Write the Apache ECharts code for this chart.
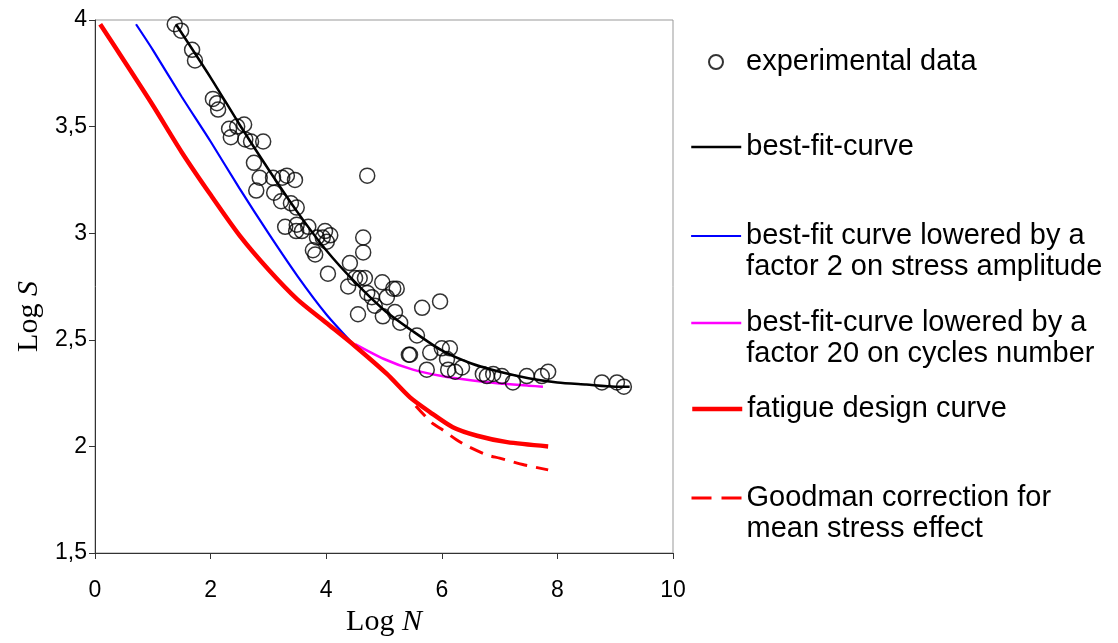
<!DOCTYPE html>
<html>
<head>
<meta charset="utf-8">
<script src="https://cdn.jsdelivr.net/npm/echarts@6/dist/echarts.min.js"></script>
<style>
  html, body { margin: 0; padding: 0; background: #fff; }
  #chart { width: 1118px; height: 643px; }
</style>
</head>
<body>
<div id="chart"></div>
<script>
// experimental points (Log N, Log S)
const expLogN = [1.38, 1.49, 1.68, 1.73, 2.04, 2.11, 2.13, 2.32, 2.46, 2.58, 2.35, 2.60, 2.70, 2.91,
  2.75, 2.85, 2.79, 3.08, 3.10, 3.24, 3.32, 3.46, 3.22, 3.39, 3.49, 3.29, 3.49, 3.58, 3.69, 3.48,
  3.98, 3.84, 3.94, 4.07, 4.01, 3.77, 3.81, 4.71, 4.64, 4.64, 4.03, 4.41, 4.50, 4.58, 4.67, 4.38,
  4.97, 5.16, 5.22, 4.71, 4.79, 5.05, 4.84, 4.55, 5.19, 4.98, 5.28, 5.66, 5.97, 5.57, 5.45, 5.43,
  5.80, 6.00, 6.14, 6.09, 5.74, 6.11, 6.23, 6.35, 6.71, 6.78, 6.89, 7.04, 7.23, 7.47, 7.73, 7.84,
  8.77, 9.03, 9.15];
const expLogS = [3.98, 3.95, 3.86, 3.81, 3.63, 3.61, 3.58, 3.49, 3.50, 3.51, 3.45, 3.44, 3.43, 3.43,
  3.33, 3.26, 3.20, 3.26, 3.19, 3.26, 3.27, 3.25, 3.15, 3.14, 3.12, 3.03, 3.04, 3.01, 3.03, 3.01,
  3.01, 2.98, 2.98, 2.99, 2.96, 2.92, 2.90, 3.27, 2.98, 2.91, 2.81, 2.86, 2.79, 2.79, 2.79, 2.75,
  2.77, 2.74, 2.74, 2.72, 2.70, 2.70, 2.66, 2.62, 2.63, 2.61, 2.58, 2.65, 2.68, 2.52, 2.43, 2.43,
  2.44, 2.46, 2.46, 2.41, 2.36, 2.36, 2.35, 2.37, 2.34, 2.33, 2.34, 2.33, 2.30, 2.33, 2.33, 2.35,
  2.30, 2.30, 2.28];

const bestFit = [[1.40, 3.98], [2.0, 3.73], [2.5, 3.51], [3.0, 3.30], [3.5, 3.10], [4.0, 2.92],
  [4.5, 2.77], [5.0, 2.64], [5.5, 2.54], [6.0, 2.45], [6.5, 2.39], [7.0, 2.35], [7.5, 2.32],
  [8.0, 2.30], [8.5, 2.29], [9.0, 2.28], [9.25, 2.28]];
const lowStress = [[0.71, 3.98], [1.0, 3.86], [1.5, 3.64], [2.0, 3.43], [2.5, 3.21], [3.0, 3.00],
  [3.5, 2.80], [4.0, 2.62], [4.5, 2.47]];
const lowCycles = [[4.5, 2.48], [5.0, 2.41], [5.5, 2.36], [6.0, 2.33], [6.5, 2.31], [7.0, 2.295],
  [7.5, 2.285], [7.75, 2.28]];
const designCurve = [[0.09, 3.98], [0.5, 3.81], [1.0, 3.60], [1.5, 3.38], [2.0, 3.18], [2.5, 2.99],
  [3.0, 2.83], [3.5, 2.69], [4.0, 2.58], [4.5, 2.47], [5.05, 2.34], [5.45, 2.23], [5.8, 2.16],
  [6.19, 2.09], [6.61, 2.05], [7.13, 2.02], [7.84, 2.00]];
const goodman = [[5.55, 2.19], [5.83, 2.11], [6.0, 2.08], [6.26, 2.03], [6.45, 2.0], [6.78, 1.96],
  [7.0, 1.945], [7.4, 1.915], [7.84, 1.89]];

const names = ['experimental data', 'best-fit-curve', 'best-fit curve lowered by a factor 2 on stress amplitude',
  'best-fit-curve lowered by a factor 20 on cycles number', 'fatigue design curve',
  'Goodman correction for mean stress effect'];
// a leading empty line keeps the icon level with the first text line
const legendText = ['experimental data', 'best-fit-curve', '\nbest-fit curve lowered by a\nfactor 2 on stress amplitude',
  '\nbest-fit-curve lowered by a\nfactor 20 on cycles number', 'fatigue design curve',
  '\nGoodman correction for\nmean stress effect'];
const legendY = [62, 147, 236, 323, 409, 498];
const lineWidths = [1.5, 2.5, 2.2, 2.5, 4.5, 3];

const sans = 'Liberation Sans, Arial, sans-serif';
const serif = 'Liberation Serif, Times New Roman, serif';

var myChart = echarts.init(document.getElementById('chart'));

const legends = names.map(function (n, i) {
  const lines = legendText[i].split('\n').length;
  return {
    data: [n],
    left: i === 0 ? 708 : 690,
    top: legendY[i] - lines * 31 / 2,
    padding: 0,
    itemWidth: 50,
    itemHeight: 14,
    selectedMode: false,
    itemStyle: i === 0 ? {} : { opacity: 0 },
    lineStyle: i === 5 ? { width: lineWidths[i], type: [20, 10] } : { width: lineWidths[i] },
    formatter: function () { return legendText[i]; },
    textStyle: {
      fontFamily: sans,
      fontSize: 29,
      lineHeight: 31,
      color: '#000'
    }
  };
});

function lineSeries(name, data, color, width, type) {
  return {
    name: name,
    type: 'line',
    data: data,
    smooth: 0.25,
    symbol: 'none',
    lineStyle: { color: color, width: width, type: type || 'solid' },
    itemStyle: { color: color },
    z: 2
  };
}

myChart.setOption({
  animation: false,
  backgroundColor: '#fff',
  legend: legends,
  grid: {
    left: 95, top: 20, right: 445, bottom: 90,
    show: true, borderColor: '#999', borderWidth: 1
  },
  xAxis: {
    type: 'value', min: 0, max: 10, interval: 2,
    name: '{a|Log }{b|N}',
    nameLocation: 'middle',
    nameGap: 52,
    nameTextStyle: {
      rich: {
        a: { fontFamily: serif, fontSize: 30, color: '#000' },
        b: { fontFamily: serif, fontSize: 30, fontStyle: 'italic', color: '#000' }
      }
    },
    axisLine: { lineStyle: { color: '#333', width: 1 } },
    axisTick: { length: 6, lineStyle: { color: '#333' } },
    axisLabel: { fontFamily: sans, fontSize: 23, color: '#000', margin: 26 },
    splitLine: { show: false }
  },
  yAxis: {
    type: 'value', min: 1.5, max: 4, interval: 0.5,
    name: '{a|Log }{b|S}',
    nameLocation: 'middle',
    nameGap: 50,
    nameTextStyle: {
      padding: [0, 60, 0, 0],
      rich: {
        a: { fontFamily: serif, fontSize: 30, color: '#000' },
        b: { fontFamily: serif, fontSize: 30, fontStyle: 'italic', color: '#000' }
      }
    },
    axisLine: { show: true, lineStyle: { color: '#333', width: 1 } },
    axisTick: { show: true, length: 6, lineStyle: { color: '#333' } },
    axisLabel: {
      fontFamily: sans, fontSize: 23, color: '#000', margin: 8,
      formatter: function (v) { return String(v).replace('.', ','); }
    },
    splitLine: { show: false }
  },
  series: [
    lineSeries(names[1], bestFit, '#000', 2.5),
    lineSeries(names[2], lowStress, '#0000ff', 2.2),
    lineSeries(names[3], lowCycles, '#ff00ff', 2.5),
    lineSeries(names[4], designCurve, '#ff0000', 4.5),
    lineSeries(names[5], goodman, '#ff0000', 3, [14, 9]),
    {
      name: names[0],
      type: 'scatter',
      data: expLogN.map(function (x, i) { return [x, expLogS[i]]; }),
      symbol: 'circle',
      symbolSize: 15,
      itemStyle: { color: 'transparent', borderColor: '#000', borderWidth: 1.5 },
      z: 3
    }
  ]
});
</script>
</body>
</html>
